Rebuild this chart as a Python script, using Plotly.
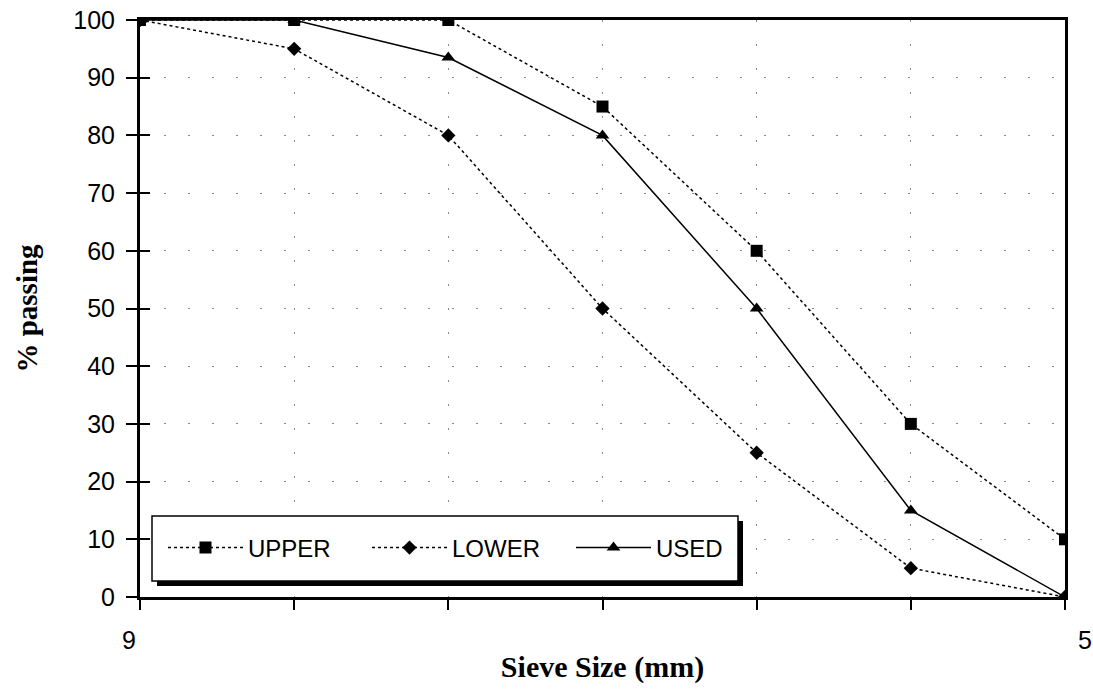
import plotly.graph_objects as go

x_pos = [0, 1, 2, 3, 4, 5, 6]
x_tick_text = ["9", "", "", "", "", "", "5"]
x_label_shift = [-11, 0, 0, 0, 0, 0, 20]
upper = [100, 100, 100, 85, 60, 30, 10]
lower = [100, 95, 80, 50, 25, 5, 0]
used = [100, 100, 93.5, 80, 50, 15, 0]
y_ticks = [0, 10, 20, 30, 40, 50, 60, 70, 80, 90, 100]

W, H = 1093, 692
L, R, T, B = 140, 28, 20, 95
pw, ph = W - L - R, H - T - B


def px_x(p):
    return (p - L) / pw


def px_y(p):
    return (H - B - p) / ph


fig = go.Figure()
fig.add_trace(go.Scatter(x=x_pos, y=upper, name="UPPER", mode="lines+markers",
                         line=dict(color="black", width=1.5, dash="dot"),
                         marker=dict(symbol="square", size=12, color="black")))
fig.add_trace(go.Scatter(x=x_pos, y=lower, name="LOWER", mode="lines+markers",
                         line=dict(color="black", width=1.5, dash="dot"),
                         marker=dict(symbol="diamond", size=11, color="black")))
fig.add_trace(go.Scatter(x=x_pos, y=used, name="USED", mode="lines+markers",
                         line=dict(color="black", width=1.5),
                         marker=dict(symbol="triangle-up", size=12, color="black")))
# invisible trace on y2 to draw inner tick marks
fig.add_trace(go.Scatter(x=x_pos, y=used, yaxis="y2", showlegend=False,
                         mode="markers", marker=dict(opacity=0), hoverinfo="skip"))

# legend box with drop shadow
fig.add_shape(type="rect", xref="paper", yref="paper",
              x0=px_x(157), x1=px_x(743), y0=px_y(586), y1=px_y(521),
              fillcolor="black", line=dict(width=0), layer="above")
fig.add_shape(type="rect", xref="paper", yref="paper",
              x0=px_x(152), x1=px_x(738), y0=px_y(581), y1=px_y(516),
              fillcolor="white", line=dict(color="black", width=1.5), layer="above")

for xv, txt, sh in zip(x_pos, x_tick_text, x_label_shift):
    if txt:
        fig.add_annotation(x=xv, y=0, xref="x", yref="y", text=txt, showarrow=False,
                           xshift=sh, yshift=-43, font=dict(size=25),
                           xanchor="center", yanchor="middle")

fig.update_layout(
    width=W, height=H,
    margin=dict(l=L, r=R, t=T, b=B, autoexpand=False),
    paper_bgcolor="white", plot_bgcolor="white",
    font=dict(family="Liberation Sans, Arial", size=25, color="black"),
    showlegend=True,
    legend=dict(orientation="h", x=px_x(163), y=px_y(548), xanchor="left", yanchor="middle",
                bgcolor="rgba(0,0,0,0)", borderwidth=0,
                font=dict(size=24), itemwidth=75, entrywidth=114,
                tracegroupgap=0),
    xaxis=dict(range=[0, 6], tickvals=x_pos, ticktext=["" for _ in x_pos],
               ticks="outside", ticklen=10, tickwidth=2, tickcolor="black",
               showline=True, linecolor="black", linewidth=3, mirror=True,
               showgrid=True, gridcolor="#888", griddash="2px,22px", gridwidth=1,
               zeroline=False, automargin=False,
               title=dict(text="<b>Sieve Size (mm)</b>",
                          font=dict(family="Liberation Serif, Times New Roman", size=30),
                          standoff=42)),
    yaxis=dict(range=[0, 100], tickvals=y_ticks,
               ticks="outside", ticklen=11, tickwidth=2, tickcolor="black",
               showline=True, linecolor="black", linewidth=3, mirror=True,
               showgrid=True, gridcolor="#888", griddash="2px,22px", gridwidth=1,
               zeroline=False, ticklabelstandoff=6, automargin=False,
               title=dict(text="<b>% passing</b>",
                          font=dict(family="Liberation Serif, Times New Roman", size=29),
                          standoff=28)),
    yaxis2=dict(range=[0, 100], tickvals=y_ticks, overlaying="y", side="left",
                ticks="inside", ticklen=10, tickwidth=2, tickcolor="black",
                showticklabels=False, showgrid=False, zeroline=False, showline=False,
                automargin=False),
)

fig.write_html("out.html")
